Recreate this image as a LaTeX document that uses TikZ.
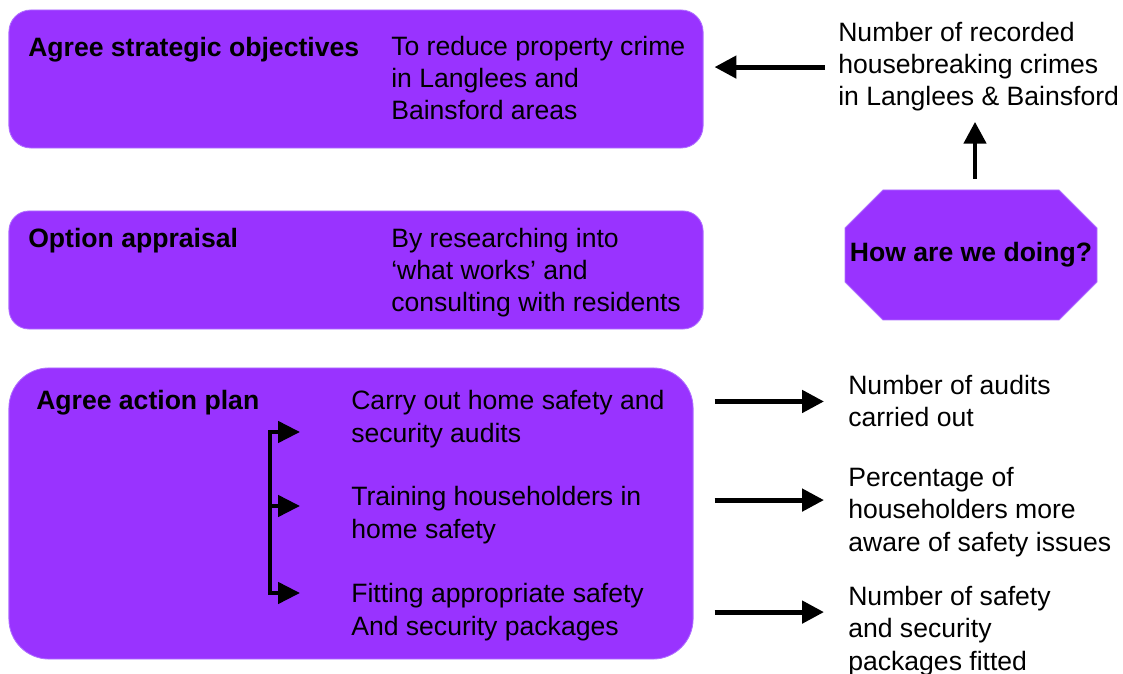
\documentclass[tikz,border=0pt]{standalone}
\usepackage{fontspec}
\setmainfont{Liberation Sans}
\usetikzlibrary{arrows.meta, positioning, calc}
\definecolor{boxpurple}{HTML}{9933FF}
\definecolor{boxedge}{HTML}{B070FF}
\newcommand{\diagfont}{\fontsize{18.9pt}{22.8pt}\selectfont}
\tikzset{
    panel/.style={
        rectangle, draw=boxedge, line width=0.6pt, fill=boxpurple,
        inner sep=0pt
    },
    % multi-line texts: base = baseline of the last line
    head/.style={
        anchor=base west, inner sep=0pt, align=left,
        font=\diagfont\bfseries
    },
    body/.style={
        anchor=base west, inner sep=0pt, align=left,
        font=\diagfont
    },
    octo/.style={
        rectangle, minimum width=6.3cm, minimum height=3.25cm, inner sep=0pt,
        font=\diagfont\bfseries
    },
    octo fill/.style={fill=boxpurple, draw=boxedge, line width=0.6pt},
    arr/.style={-{Triangle[length=15.6pt, width=15.6pt]}, line width=3.5pt},
    arr branch/.style={-{Triangle[length=15.6pt, width=15pt]}, line width=3pt},
    spine/.style={line width=3pt, line cap=rect}
}

\begin{document}
\begin{tikzpicture}[x=0.025cm, y=-0.025cm]

    \useasboundingbox (0,0) rectangle (1123,674);

    % --- Left panels ---
    \node[panel, rounded corners=0.55cm, minimum width=17.35cm, minimum height=3.45cm] (obj) at (356,79) {};
    \node[panel, rounded corners=0.5cm, minimum width=17.35cm, minimum height=2.95cm] (appr) at (356,270) {};
    \node[panel, rounded corners=1cm, minimum width=17.1cm, minimum height=7.275cm] (plan) at (351,513.5) {};

    % --- Panel texts ---
    \node[head] (objh) at (28,57) {Agree strategic objectives};
    \node[body] (objb) at (391,120) {To reduce property crime\\in Langlees and\\Bainsford areas};
    \node[head] (apprh) at (28,248) {Option appraisal};
    \node[body] (apprb) at (391,312) {By researching into\\`what works' and\\consulting with residents};
    \node[head] (planh) at (36,410) {Agree action plan};
    \node[body] (audit) at (351,442) {Carry out home safety and\\security audits};
    \node[body] (train) at (351,538) {Training householders in\\home safety};
    \node[body] (fit) at (351,635) {Fitting appropriate safety\\And security packages};

    % --- Octagon ---
    \coordinate (doc) at (971,255);
    \fill[octo fill] ($(doc)+(-88,-65)$) -- ($(doc)+(88,-65)$) -- ($(doc)+(126,-27)$)
        -- ($(doc)+(126,27)$) -- ($(doc)+(88,65)$) -- ($(doc)+(-88,65)$)
        -- ($(doc)+(-126,27)$) -- ($(doc)+(-126,-27)$) -- cycle;
    \node[octo] (doing) at (doc) {How are we doing?};

    % --- Measures on the right ---
    \node[body] (crimes) at (838,106) {Number of recorded\\housebreaking crimes\\in Langlees \& Bainsford};
    \node[body] (naudit) at (848,427) {Number of audits\\carried out};
    \node[body] (aware) at (848,551) {Percentage of\\householders more\\aware of safety issues};
    \node[body] (npack) at (848,670) {Number of safety\\and security\\packages fitted};

    % --- Bracket inside the action plan ---
    \coordinate (b1) at (270,432);
    \coordinate (b2) at (270,506);
    \coordinate (b3) at (270,593);
    \coordinate (t1) at (300,432);
    \coordinate (t2) at (300,506);
    \coordinate (t3) at (300,593);
    \draw[spine] (b1) -- (b3);
    \draw[arr branch] (b1) -- (t1);
    \draw[arr branch] (b2) -- (t2);
    \draw[arr branch] (b3) -- (t3);

    % --- Arrows ---
    \draw[arr, shorten <=0.275cm, shorten >=0.25cm] ([xshift=0.1cm]doing.north) -- ([xshift=0.1cm]doing.north |- crimes.south);
    \draw[arr, shorten <=0.325cm, shorten >=0.275cm] (crimes.west) -- (crimes.west -| obj.east);
    \draw[arr, shorten <=0.525cm, shorten >=0.6cm] (plan.east |- naudit.west) -- (naudit.west);
    \draw[arr, shorten <=0.525cm, shorten >=0.6cm] ([yshift=0.3cm]plan.east |- aware.west) -- ([yshift=0.3cm]aware.west);
    \draw[arr, shorten <=0.525cm, shorten >=0.6cm] (plan.east |- fit.west) -- (fit.west -| npack.west);

\end{tikzpicture}
\end{document}
